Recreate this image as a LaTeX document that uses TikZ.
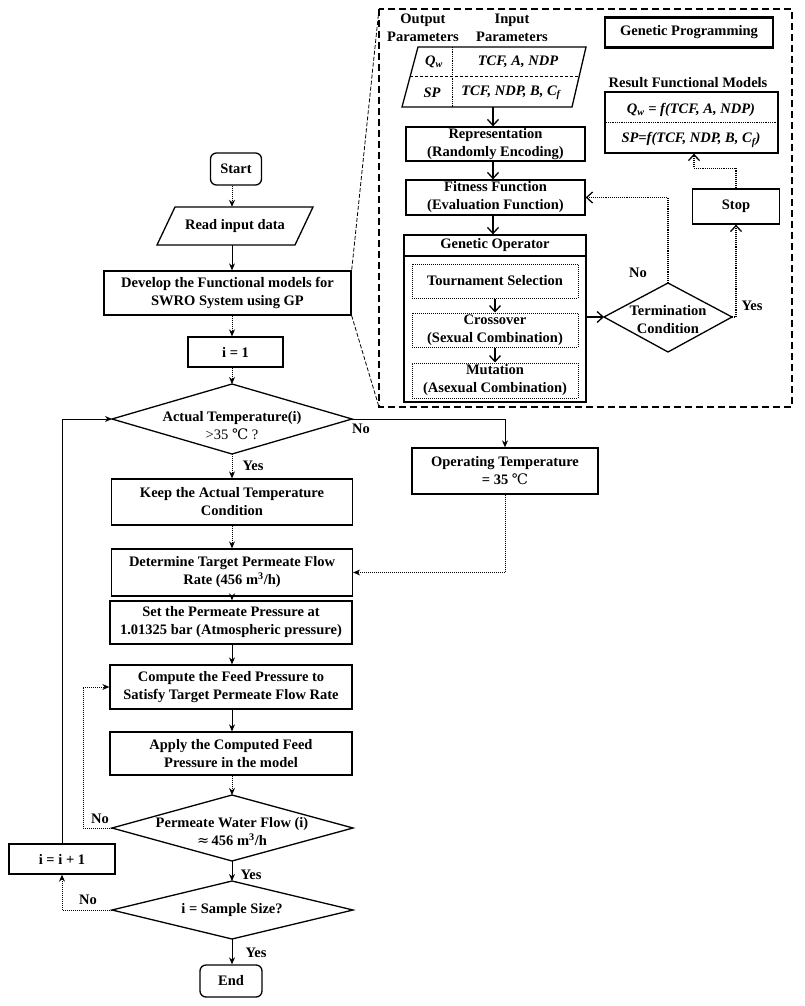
\documentclass[tikz,border=0pt]{standalone}
\usepackage{fontspec}
\setmainfont{Liberation Serif}
\newfontfamily\dvs{DejaVu Serif}
\usetikzlibrary{arrows.meta}
\newcommand\mydegC{{\dvs\mdseries ℃}}
\newcommand\myapprox{{\dvs\mdseries ≈}}
\begin{document}
\begin{tikzpicture}[x=1pt,y=-1pt,
  every node/.style={font=\fontsize{14.5}{18}\selectfont\bfseries},
  box/.style={draw, line width=1.3pt, inner sep=0pt, align=center},
  dbox/.style={draw, densely dotted, line width=1pt, inner sep=0pt, align=center},
  txt/.style={inner sep=0pt, align=center},
  lbl/.style={inner sep=1pt},
  shp/.style={line width=1.3pt},
  ar/.style={line width=1pt, -{Stealth[length=7pt,width=6pt]}},
  dar/.style={ar, densely dotted},
  gar/.style={line width=1.1pt, -{Straight Barb[length=6pt,width=11pt,line width=1.3pt]}},
  dgar/.style={gar, densely dotted}]
\useasboundingbox (0,0) rectangle (805,1006);

% ---------------- main flowchart ----------------
\node[box, rounded corners=6pt, minimum width=51pt, minimum height=32pt] (start) at (236,169) {Start};
\draw[shp] (175,207) -- (313,207) -- (295,245) -- (157,245) -- cycle;
\node[txt, minimum width=100pt, minimum height=38pt] (read) at (235,226) {Read input data};
\node[box, minimum width=247pt, minimum height=44pt] (dev) at (227.5,293) {Develop the Functional models for\\SWRO System using GP};
\node[box, minimum width=95pt, minimum height=30pt] (i1) at (235.5,352) {i = 1};

\coordinate (atN) at (232,384);
\coordinate (atE) at (352,419);
\coordinate (atS) at (232,454);
\coordinate (atW) at (112,419);
\draw[shp] (atN) -- (atE) -- (atS) -- (atW) -- cycle;
\node[txt] (atemp) at (232,426) {Actual Temperature(i)\\{\mdseries >35 \mydegC\ ?}};

\node[box, minimum width=241pt, minimum height=46pt] (keep) at (232,502) {Keep the Actual Temperature\\Condition};
\node[box, minimum width=186pt, minimum height=46pt] (op) at (505,471) {Operating Temperature\\= 35 \mydegC};
\node[box, minimum width=241pt, minimum height=47pt] (det) at (232,572.5) {Determine Target Permeate Flow\\Rate (456 m\textsuperscript{3}/h)};
\node[box, minimum width=242pt, minimum height=43pt] (set) at (231,622.5) {Set the Permeate Pressure at\\1.01325 bar (Atmospheric pressure)};
\node[box, minimum width=242pt, minimum height=44pt] (comp) at (231,687) {Compute the Feed Pressure to\\Satisfy Target Permeate Flow Rate};
\node[box, minimum width=242pt, minimum height=43pt] (apply) at (231,753.5) {Apply the Computed Feed\\Pressure in the model};

\coordinate (peN) at (232,795);
\coordinate (peE) at (353,828);
\coordinate (peS) at (232,861);
\coordinate (peW) at (112,828);
\draw[shp] (peN) -- (peE) -- (peS) -- (peW) -- cycle;
\node[txt] (perm) at (232,832) {Permeate Water Flow (i)\\\myapprox\,456 m\textsuperscript{3}/h};

\coordinate (saN) at (232,881);
\coordinate (saE) at (353,910);
\coordinate (saS) at (232,939);
\coordinate (saW) at (112,910);
\draw[shp] (saN) -- (saE) -- (saS) -- (saW) -- cycle;
\node[txt] (samp) at (232,910) {i = Sample Size?};

\node[box, minimum width=106pt, minimum height=30pt] (inc) at (62,859) {i = i + 1};
\node[box, rounded corners=6pt, minimum width=62pt, minimum height=32pt] (end) at (231,981) {End};

% main connectors
\draw[dar] (start.south -| atN) -- (read.north -| atN);
\draw[ar] (read.south -| atN) -- (dev.north -| atN);
\draw[dar] (dev.south -| atN) -- (i1.north -| atN);
\draw[dar] (i1.south -| atN) -- (atN);
\draw[ar] (atE) -| (op.north);
\draw[dar] (atS) -- (keep.north);
\draw[dar] (keep.south) -- (det.north);
\draw[dar] (op.south) |- (det.east);
\draw[dar] (det.south) -- (det.south |- set.north);
\draw[ar] (set.south -| atN) -- (comp.north -| atN);
\draw[ar] (comp.south -| atN) -- (apply.north -| atN);
\draw[dar] (apply.south -| atN) -- (peN);
\draw[dar] (peW) -- ++(-29,0) |- (comp.west);
\draw[ar] (peS) -- (saN);
\draw[dar] (saW) -| (inc.south);
\draw[ar] (inc.north) |- (atW);
\draw[ar] (saS) -- (end.north -| saS);

% labels
\node[lbl] (l1) at (361,429) {No};
\node[lbl] (l2) at (253,466) {Yes};
\node[lbl] (l3) at (100,819) {No};
\node[lbl] (l4) at (251,875) {Yes};
\node[lbl] (l5) at (88,900) {No};
\node[lbl] (l6) at (256,953) {Yes};

% ---------------- Genetic Programming panel ----------------
\coordinate (gpTL) at (379,9);
\coordinate (gpBR) at (792,407);
\draw[line width=2.4pt, dash pattern=on 7pt off 4pt] (gpTL) rectangle (gpBR);
\draw[line width=0.8pt, dash pattern=on 4pt off 2pt] (gpTL) -- (dev.north east);
\draw[line width=0.8pt, dash pattern=on 4pt off 2pt] (dev.south east) -- (gpTL |- gpBR);

\node[box, line width=2.8pt, minimum width=168pt, minimum height=30pt] (gp) at (689,32.5) {Genetic Programming};
\node[txt] (outp) at (423,28) {Output\\Parameters};
\node[txt] (inp) at (512,28) {Input\\Parameters};

\draw[shp] (418,47) -- (586,47) -- (572,107) -- (402,107) -- cycle;
\draw[line width=1pt, densely dashed] (410,77) -- (579,77);
\draw[line width=0.8pt, densely dotted] (452,47) -- (452,107);
\node[txt] (qw) at (434,62) {\itshape Q\textsubscript{w}};
\node[txt] (in1) at (518,62) {\itshape TCF, A, NDP};
\node[txt] (sp) at (432,93) {\itshape SP};
\node[txt] (in2) at (511,93) {\itshape TCF, NDP, B, C\textsubscript{f}};
\coordinate (tabS) at (493,107);

\node[box, minimum width=179pt, minimum height=34pt] (rep) at (495.5,144) {Representation\\(Randomly Encoding)};
\node[box, minimum width=179pt, minimum height=35pt] (fit) at (495.5,197.5) {Fitness Function\\(Evaluation Function)};
\node[box, minimum width=182pt, minimum height=167pt] (gop) at (495,318.5) {};
\draw[shp] (404,256) -- (586,256);
\node[txt] (goph) at (495,245.5) {Genetic Operator};
\node[dbox, minimum width=166pt, minimum height=34pt] (tour) at (495,281) {Tournament Selection};
\node[dbox, minimum width=166pt, minimum height=34pt] (cross) at (495,330) {Crossover\\(Sexual Combination)};
\node[dbox, minimum width=166pt, minimum height=35pt] (mut) at (495,380.5) {Mutation\\(Asexual Combination)};

\coordinate (tmN) at (668,283);
\coordinate (tmE) at (732,317);
\coordinate (tmS) at (668,352);
\coordinate (tmW) at (604,317);
\draw[shp] (tmN) -- (tmE) -- (tmS) -- (tmW) -- cycle;
\node[txt] (term) at (668,320) {Termination\\Condition};

\node[box, minimum width=87pt, minimum height=35pt] (stop) at (736,206.5) {Stop};
\node[txt] (reslbl) at (688,83) {Result Functional Models};
\node[box, minimum width=173pt, minimum height=61pt] (res) at (691.5,122.5) {};
\draw[line width=0.8pt, densely dotted] (res.west) -- (res.east);
\node[txt] (r1) at (691,110) {\itshape Q\textsubscript{w} = f(TCF, A, NDP)};
\node[txt] (r2) at (691,140) {\itshape SP=f(TCF, NDP, B, C\textsubscript{f})};

% GP connectors
\draw[gar] (tabS) -- (tabS |- rep.north);
\draw[gar] (rep.south -| tabS) -- (fit.north -| tabS);
\draw[gar] (fit.south -| tabS) -- (gop.north -| tabS);
\draw[gar] (tour.south) -- (cross.north);
\draw[gar] (cross.south) -- (mut.north);
\draw[gar] (gop.east |- tmW) -- (tmW);
\draw[dgar] (tmN) |- (fit.east);
\draw[dgar] (tmE) -- (stop.south |- tmE) -- (stop.south);
\draw[dgar] (stop.north) -- ++(0,-20) -| (res.south -| 694,0);
\node[lbl] (gno) at (638,273) {No};
\node[lbl] (gyes) at (752,306) {Yes};
\end{tikzpicture}
\end{document}
